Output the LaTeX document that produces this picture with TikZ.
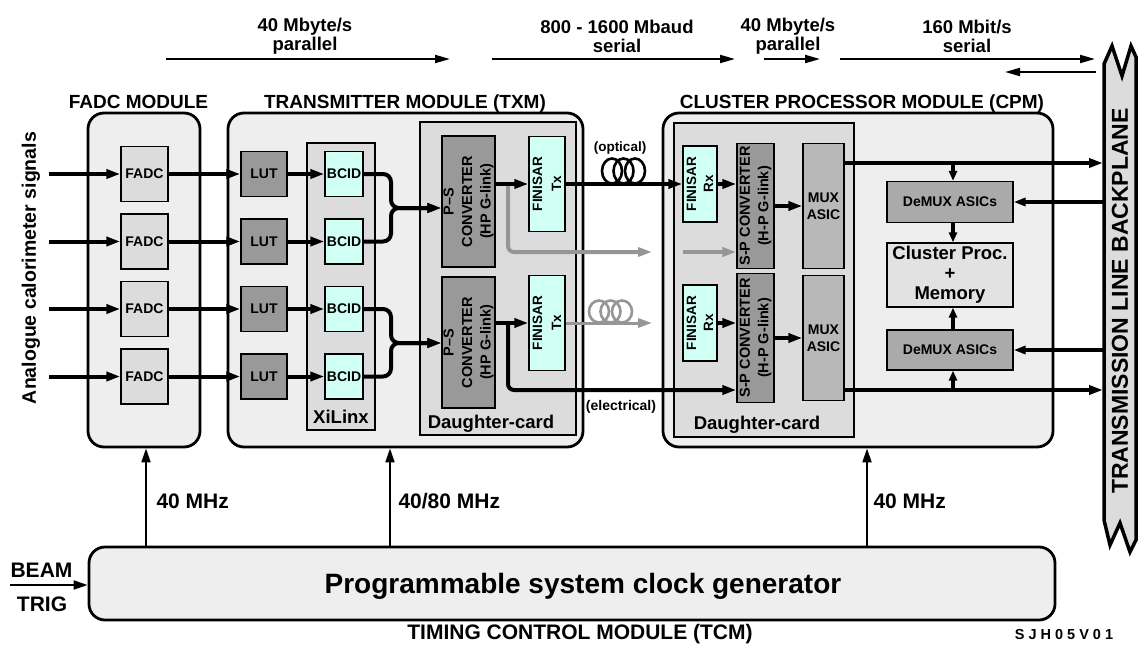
\documentclass[tikz,border=0pt]{standalone}
\usepackage{fontspec}
\setmainfont{Liberation Sans}
\usepackage{tikz}
\usetikzlibrary{arrows.meta, positioning, calc}
\definecolor{tcmodule}{RGB}{238,238,238}
\definecolor{tclight}{RGB}{220,220,220}
\definecolor{tcdark}{RGB}{153,153,153}
\definecolor{tcmid}{RGB}{184,184,184}
\definecolor{tcdemux}{RGB}{170,170,170}
\definecolor{tcproc}{RGB}{226,226,226}
\definecolor{tccyan}{RGB}{208,255,244}
\definecolor{tcgarrow}{RGB}{150,150,150}
\newcommand{\tcfont}[2]{\fontsize{#1}{#2}\selectfont\bfseries}

\begin{document}
\begin{tikzpicture}[x=1pt, y=-1pt,
  module/.style={draw, line width=2.8pt, fill=tcmodule, rounded corners=16pt, inner sep=0pt},
  card/.style={draw, line width=2.8pt, fill=tclight, inner sep=0pt},
  lightbox/.style={draw, line width=1.3pt, fill=tclight, inner sep=0pt, align=center, font=\tcfont{14}{17}},
  darkbox/.style={draw, line width=1.3pt, fill=tcdark, inner sep=0pt, align=center, font=\tcfont{14}{17}},
  cyanbox/.style={draw, line width=1.3pt, fill=tccyan, inner sep=0pt, align=center, font=\tcfont{14}{17}},
  vtxt/.style={rotate=90, align=center, font=\tcfont{14.5}{18.5}},
  modtitle/.style={font=\tcfont{19}{22}, anchor=base},
  ratetxt/.style={font=\tcfont{18.5}{19}, align=center},
  sig/.style={line width=4pt, -{Triangle[length=14pt, width=9pt]}},
  gsig/.style={sig, tcgarrow},
  rate/.style={line width=2pt, -{Triangle[length=15pt, width=8pt]}},
  clk/.style={line width=2pt, -{Triangle[length=14pt, width=9pt]}},
  tap/.style={line width=3.5pt, -{Triangle[length=10pt, width=8pt]}},
  coil/.style={line width=2.6pt}
]
\useasboundingbox (0,0) rectangle (1138,645);
\fill[white] (0,0) rectangle (1138,645);

% ---- data rates along the top ----
\coordinate (ra1) at (166,59);  \coordinate (rb1) at (450,59);
\coordinate (ra2) at (492,59);  \coordinate (rb2) at (735,59);
\coordinate (ra3) at (764,59);  \coordinate (rb3) at (820,59);
\coordinate (ra4) at (840,59);  \coordinate (rb4) at (1095,59);
\coordinate (ra5) at (1096,72); \coordinate (rb5) at (1005,72);
\draw[rate] (ra1) -- (rb1);
\draw[rate] (ra2) -- (rb2);
\draw[rate] (ra3) -- (rb3);
\draw[rate] (ra4) -- (rb4);
\draw[rate] (ra5) -- (rb5);
\node[ratetxt] (rate1) at (305,36) {40 Mbyte/s\\parallel};
\node[ratetxt] (rate2) at (617,36) {800 - 1600 Mbaud\\serial};
\node[ratetxt] (rate3) at (788,36) {40 Mbyte/s\\parallel};
\node[ratetxt] (rate4) at (967,36) {160 Mbit/s\\serial};

% ---- module frames ----
\node[module, minimum width=112pt, minimum height=334pt] (fadcmod) at (144,280) {};
\node[module, minimum width=355pt, minimum height=334pt] (txm) at (405.5,280) {};
\node[module, minimum width=390pt, minimum height=334pt] (cpm) at (858,280) {};
\node[module, minimum width=966pt, minimum height=73pt] (tcm) at (572,583.5) {};
\node[modtitle] (fadctitle) at (138.5,108) {FADC MODULE};
\node[modtitle] (txmtitle) at (405,108) {TRANSMITTER MODULE (TXM)};
\node[modtitle] (cpmtitle) at (862,108) {CLUSTER PROCESSOR MODULE (CPM)};

% ---- analogue inputs ----
\node[rotate=90, font=\tcfont{19.5}{22}] (analogue) at (31,268) {Analogue calorimeter signals};
\coordinate (in1) at (49,174);
\coordinate (in2) at (49,241.5);
\coordinate (in3) at (49,309);
\coordinate (in4) at (49,376.5);

% ---- FADC module ----
\node[lightbox, minimum width=47pt, minimum height=55pt] (fadc1) at (144.5,174) {FADC};
\node[lightbox, minimum width=47pt, minimum height=55pt] (fadc2) at (144.5,241.5) {FADC};
\node[lightbox, minimum width=47pt, minimum height=55pt] (fadc3) at (144.5,309) {FADC};
\node[lightbox, minimum width=47pt, minimum height=55pt] (fadc4) at (144.5,376.5) {FADC};

% ---- transmitter module ----
\node[darkbox, minimum width=46pt, minimum height=45pt] (lut1) at (264,174) {LUT};
\node[darkbox, minimum width=46pt, minimum height=45pt] (lut2) at (264,241.5) {LUT};
\node[darkbox, minimum width=46pt, minimum height=45pt] (lut3) at (264,309) {LUT};
\node[darkbox, minimum width=46pt, minimum height=45pt] (lut4) at (264,376.5) {LUT};

\node[card, minimum width=68pt, minimum height=287pt] (xilinx) at (341,286.5) {};
\node[font=\tcfont{18.5}{20}, anchor=base] (xilinxlbl) at (341,423) {XiLinx};
\node[cyanbox, minimum width=38pt, minimum height=45pt] (bcid1) at (344,174) {BCID};
\node[cyanbox, minimum width=38pt, minimum height=45pt] (bcid2) at (344,241.5) {BCID};
\node[cyanbox, minimum width=38pt, minimum height=45pt] (bcid3) at (344,309) {BCID};
\node[cyanbox, minimum width=38pt, minimum height=45pt] (bcid4) at (344,376.5) {BCID};

\node[card, minimum width=156pt, minimum height=313pt] (txcard) at (498,278.5) {};
\node[font=\tcfont{18.5}{20}, anchor=base] (txcardlbl) at (491,428) {Daughter-card};
\node[darkbox, minimum width=53pt, minimum height=131pt,
  label={[vtxt]center:P--S\\CONVERTER\\(HP G-link)}] (ps1) at (468.5,201.5) {};
\node[darkbox, minimum width=53pt, minimum height=131pt,
  label={[vtxt]center:P--S\\CONVERTER\\(HP G-link)}] (ps2) at (468.5,342.5) {};
\node[cyanbox, minimum width=36pt, minimum height=95pt,
  label={[vtxt, font=\tcfont{13.5}{19}]center:FINISAR\\Tx}] (tx1) at (547,184) {};
\node[cyanbox, minimum width=36pt, minimum height=95pt,
  label={[vtxt, font=\tcfont{13.5}{19}]center:FINISAR\\Tx}] (tx2) at (547,323) {};

% ---- cluster processor module ----
\node[card, minimum width=180pt, minimum height=314pt] (cpcard) at (764,280) {};
\node[font=\tcfont{18.5}{20}, anchor=base] (cpcardlbl) at (757,429) {Daughter-card};
\node[cyanbox, minimum width=34pt, minimum height=76pt,
  label={[vtxt, font=\tcfont{13.5}{17}]center:FINISAR\\Rx}] (rx1) at (700,184) {};
\node[cyanbox, minimum width=34pt, minimum height=76pt,
  label={[vtxt, font=\tcfont{13.5}{17}]center:FINISAR\\Rx}] (rx2) at (700,323) {};
\node[darkbox, minimum width=37pt, minimum height=125pt,
  label={[vtxt]center:S-P CONVERTER\\(H-P G-link)}] (sp1) at (755.5,206) {};
\node[darkbox, minimum width=37pt, minimum height=129pt,
  label={[vtxt]center:S-P CONVERTER\\(H-P G-link)}] (sp2) at (755.5,338) {};
\node[darkbox, fill=tcmid, minimum width=41pt, minimum height=125pt] (mux1) at (823.5,206) {MUX\\ASIC};
\node[darkbox, fill=tcmid, minimum width=41pt, minimum height=125pt] (mux2) at (823.5,338) {MUX\\ASIC};
\node[darkbox, fill=tcdemux, minimum width=126pt, minimum height=41pt] (demux1) at (950,202) {DeMUX ASICs};
\node[lightbox, fill=tcproc, minimum width=126pt, minimum height=64pt,
  font=\tcfont{18.5}{20}] (clproc) at (950,275) {Cluster Proc.\\+\\Memory};
\node[darkbox, fill=tcdemux, minimum width=126pt, minimum height=40pt] (demux2) at (950,350) {DeMUX ASICs};

% ---- backplane ----
\filldraw[fill=tclight, line width=3.5pt] (1104,520) -- (1104,64) -- (1112,46) -- (1122,76)
  -- (1131,46) -- (1136,57) -- (1136,540) -- (1130,552) -- (1120,523) -- (1110,545) -- cycle;
\node[rotate=90, font=\tcfont{23}{24}] (backplane) at (1120,301) {TRANSMISSION LINE BACKPLANE};
\coordinate (bpa) at (1103,163);
\coordinate (bpb) at (1103,202);
\coordinate (bpc) at (1103,350);
\coordinate (bpd) at (1103,390);

% ---- signal paths ----
\draw[sig] (in1) -- (fadc1);
\draw[sig] (in2) -- (fadc2);
\draw[sig] (in3) -- (fadc3);
\draw[sig] (in4) -- (fadc4);
\draw[sig] (fadc1) -- (lut1);
\draw[sig] (fadc2) -- (lut2);
\draw[sig] (fadc3) -- (lut3);
\draw[sig] (fadc4) -- (lut4);
\draw[sig] (lut1) -- (bcid1);
\draw[sig] (lut2) -- (bcid2);
\draw[sig] (lut3) -- (bcid3);
\draw[sig] (lut4) -- (bcid4);

\coordinate (bj1) at (391,208);
\coordinate (bj2) at (391,343);
\draw[sig, rounded corners=8pt] (bcid1.east) -| (bj1) -- (bj1 -| ps1.west);
\draw[sig, rounded corners=8pt] (bcid2.east) -| (bj1) -- (bj1 -| ps1.west);
\draw[sig, rounded corners=8pt] (bcid3.east) -| (bj2) -- (bj2 -| ps2.west);
\draw[sig, rounded corners=8pt] (bcid4.east) -| (bj2) -- (bj2 -| ps2.west);

% gray spare links
\coordinate (gbr) at (508,186);
\coordinate (gend1) at (652,252);
\coordinate (gst2) at (683,252);
\coordinate (gend2) at (652,323);
\draw[gsig, rounded corners=6pt] (gbr) |- (gend1);
\draw[gsig] (gst2) -- (sp1.west |- gst2);
\draw[gsig, line width=3pt] (tx2) -- (gend2);
\draw[coil, tcgarrow] (599,311.5) ellipse (10pt and 11pt);
\draw[coil, tcgarrow] (610.5,311.5) ellipse (10pt and 11pt);
\draw[coil, tcgarrow] (622,311.5) ellipse (10pt and 11pt);

\draw[sig] (ps1.east |- tx1) -- (tx1);
\draw[sig] (ps2.east |- tx2) -- (tx2);
\draw[sig] (tx1) -- (rx1);
\draw[coil] (612,171) ellipse (10pt and 12.5pt);
\draw[coil] (623.5,171) ellipse (10pt and 12.5pt);
\draw[coil] (635,171) ellipse (10pt and 12.5pt);
\node[font=\tcfont{13.5}{15}, anchor=base] (optical) at (620,151) {(optical)};

\coordinate (ebr) at (508,323);
\coordinate (ein) at (0,390);
\draw[sig, rounded corners=6pt] (ebr) |- (sp2.west |- ein);
\node[font=\tcfont{14}{15}, anchor=base] (electrical) at (621,410) {(electrical)};

\draw[sig] (rx1) -- (rx1 -| sp1.west);
\draw[sig] (rx2) -- (rx2 -| sp2.west);
\draw[sig] (sp1) -- (mux1);
\draw[sig] (sp2) -- (mux2);
\draw[sig] (mux1.east |- bpa) -- (bpa);
\draw[sig] (mux2.east |- bpd) -- (bpd);

\coordinate (dmx) at (953,0);
\draw[tap] (dmx |- bpa) -- (dmx |- demux1.north);
\draw[tap] (dmx |- demux1.south) -- (dmx |- clproc.north);
\draw[tap] (dmx |- demux2.north) -- (dmx |- clproc.south);
\draw[tap] (dmx |- bpd) -- (dmx |- demux2.south);
\draw[tap, -{Triangle[length=12pt, width=8pt]}] (bpb) -- (demux1);
\draw[tap, -{Triangle[length=12pt, width=8pt]}] (bpc) -- (demux2);

% ---- timing control module ----
\coordinate (ck1) at (146,0);
\coordinate (ck2) at (390,0);
\coordinate (ck3) at (867,0);
\draw[clk] (tcm.north -| ck1) -- (fadcmod.south -| ck1);
\draw[clk] (tcm.north -| ck2) -- (txm.south -| ck2);
\draw[clk] (tcm.north -| ck3) -- (cpm.south -| ck3);
\node[font=\tcfont{21}{22}, anchor=base west] (ckl1) at (153,508) {40 MHz};
\node[font=\tcfont{21}{22}, anchor=base west] (ckl2) at (395,508) {40/80 MHz};
\node[font=\tcfont{21}{22}, anchor=base west] (ckl3) at (870,508) {40 MHz};

\coordinate (bt) at (10,585);
\draw[clk] (bt) -- (tcm.west |- bt);
\node[font=\tcfont{21}{22}, anchor=base] (beam) at (41.5,577) {BEAM};
\node[font=\tcfont{21}{22}, anchor=base] (trig) at (42,611) {TRIG};
\node[font=\tcfont{28}{30}, anchor=base] (clkgen) at (583,593) {Programmable system clock generator};
\node[font=\tcfont{21}{23}, anchor=base] (tcmtitle) at (580,639) {TIMING CONTROL MODULE (TCM)};
\node[font=\tcfont{14.5}{15}, anchor=base] (docid) at (1064,639) {S J H 0 5 V 0 1};
\end{tikzpicture}
\end{document}
